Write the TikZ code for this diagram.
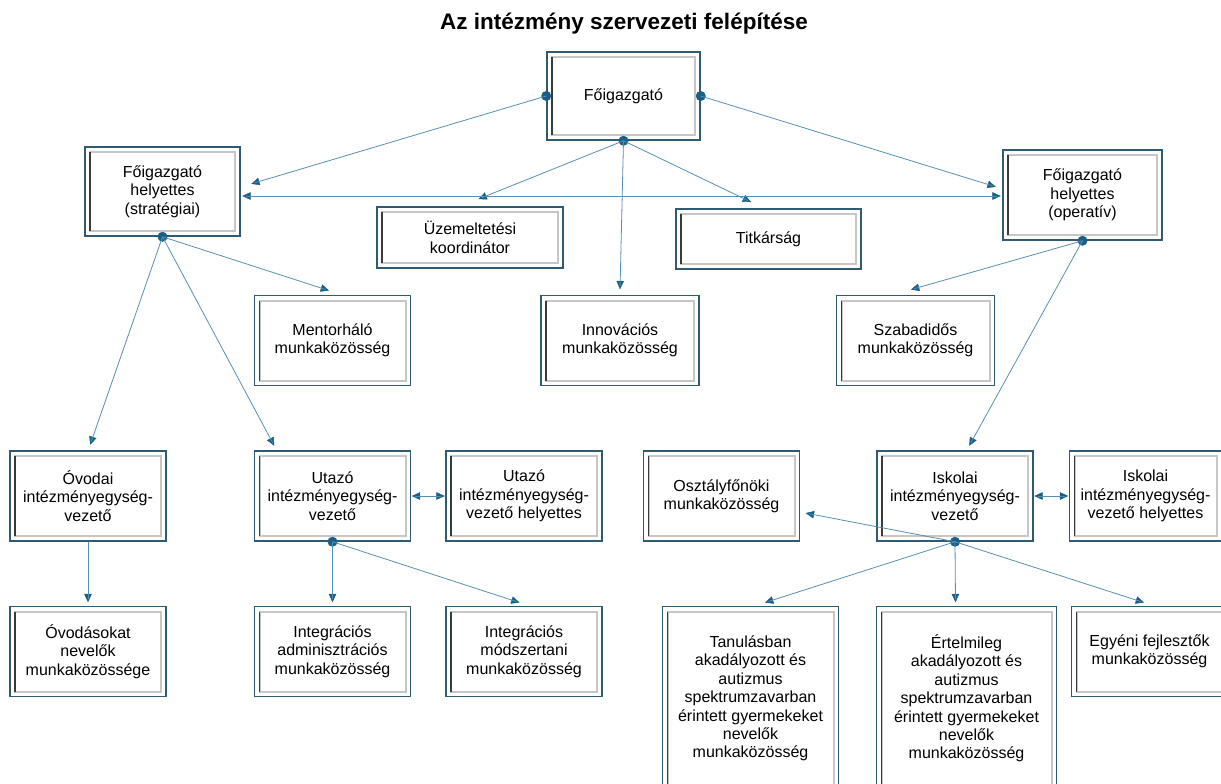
\documentclass[tikz,border=0pt]{standalone}
\usepackage{fontspec}
\setmainfont{Liberation Sans}
\usetikzlibrary{
  positioning, calc, arrows.meta, decorations.markings}
\definecolor{edgeBlue}{HTML}{2F5A72}
\definecolor{lineBlue}{HTML}{5590B2}
\definecolor{headBlue}{HTML}{1B5F86}
\definecolor{frameGray}{HTML}{C6C6C6}
\definecolor{frameDark}{HTML}{3A3A3A}
\tikzset{
    OrgBox/.style = {
        draw=edgeBlue, line width=1.5pt, fill=white, align=center,
        minimum width=156pt, minimum height=90pt, inner sep=2pt,
        font=\fontsize{16pt}{18.4pt}\selectfont,
        path picture={
            \draw [frameGray, line width=2pt]
                ([shift={(5pt,-5pt)}]path picture bounding box.north west) rectangle
                ([shift={(-5pt,5pt)}]path picture bounding box.south east);
            \draw [frameDark, line width=1.6pt]
                ([shift={(5pt,-5pt)}]path picture bounding box.north west) --
                ([shift={(5pt,5pt)}]path picture bounding box.south west);
        }
    },
    Link/.style = {
        draw=lineBlue, line width=0.8pt,
        decoration={
            markings,
            mark=at position 1 with {
                \arrow[headBlue]{Triangle[length=9pt, width=8pt]}
                }
            },
        shorten >= 4pt,
        preaction = {decorate}
    },
    LinkBoth/.style = {
        draw=lineBlue, line width=0.8pt,
        decoration={
            markings,
            mark=at position 0 with {
                \arrowreversed[headBlue]{Triangle[length=9pt, width=8pt]}
                },
            mark=at position 1 with {
                \arrow[headBlue]{Triangle[length=9pt, width=8pt]}
                }
            },
        shorten >= 4pt, shorten <= 4pt,
        preaction = {decorate}
    },
    Dot/.style = {circle, fill=headBlue, inner sep=0pt, minimum size=10pt}
}

\begin{document}
\begin{tikzpicture}[x=1pt, y=-1pt]
    \useasboundingbox (0,0) rectangle (1221,784);
    \clip (0,0) rectangle (1221,784);
    \node [font=\bfseries\fontsize{22.5pt}{27pt}\selectfont] (Title) at (624,24) {Az intézmény szervezeti felépítése};
    \node [OrgBox, minimum width=153pt, minimum height=88pt] (Fo) at (623.5,96) {Főigazgató};
    \node [OrgBox, minimum width=155pt, minimum height=89pt] (FoS) at (162.5,191.5) {Főigazgató\\helyettes\\(stratégiai)};
    \node [OrgBox, minimum width=159pt] (FoO) at (1082.5,195) {Főigazgató\\helyettes\\(operatív)};
    \node [OrgBox, minimum width=186pt, minimum height=61pt] (Uzem) at (470,237.5) {Üzemeltetési\\koordinátor};
    \node [OrgBox, minimum width=185pt, minimum height=60pt] (Titk) at (768.5,239) {Titkárság};
    \node [OrgBox] (Ovodai) at (88,496) {Óvodai\\intézményegység-\\vezető};
    \node [OrgBox, right=87pt of Ovodai] (Utazo) {Utazó\\intézményegység-\\vezető};
    \node [OrgBox, right=34pt of Utazo] (UtazoH) {Utazó\\intézményegység-\\vezető helyettes};
    \node [OrgBox, right=40pt of UtazoH] (Osztaly) {Osztályfőnöki\\munkaközösség};
    \node [OrgBox, right=76pt of Osztaly] (Iskolai) {Iskolai\\intézményegység-\\vezető};
    \node [OrgBox, minimum width=152pt, right=35pt of Iskolai] (IskolaiH) {Iskolai\\intézményegység-\\vezető helyettes};
    \node [OrgBox, above=64pt of Utazo] (Mentor) {Mentorháló\\munkaközösség};
    \node [OrgBox, minimum width=158pt, right=129pt of Mentor] (Innov) {Innovációs\\munkaközösség};
    \node [OrgBox, minimum width=158pt, right=136pt of Innov] (Szab) {Szabadidős\\munkaközösség};
    \node [OrgBox, below=64pt of Ovodai] (Ovodasok) {Óvodásokat\\nevelők\\munkaközössége};
    \node [OrgBox, below=64pt of Utazo] (IntAdm) {Integrációs\\adminisztrációs\\munkaközösség};
    \node [OrgBox, below=64pt of UtazoH] (IntMod) {Integrációs\\módszertani\\munkaközösség};
    \node [OrgBox, minimum width=176pt, minimum height=184pt, below=64pt of Osztaly, xshift=29pt] (Tanul)
        {Tanulásban\\akadályozott és\\autizmus\\spektrumzavarban\\érintett gyermekeket\\nevelők\\munkaközösség};
    \node [OrgBox, minimum width=180pt, minimum height=184pt, below=64pt of Iskolai, xshift=11.5pt] (Ert)
        {Értelmileg\\akadályozott és\\autizmus\\spektrumzavarban\\érintett gyermekeket\\nevelők\\munkaközösség};
    \node [OrgBox, below=64pt of IskolaiH, xshift=4pt] (Egyeni) {Egyéni fejlesztők\\munkaközösség};
    \node [Dot] (FoL) at (Fo.west) {};
    \node [Dot] (FoR) at (Fo.east) {};
    \node [Dot] (FoB) at (Fo.south) {};
    \node [Dot] (FoSB) at (FoS.south) {};
    \node [Dot] (FoOB) at (FoO.south) {};
    \node [Dot] (UtazoB) at (Utazo.south) {};
    \node [Dot] (IskB) at (Iskolai.south) {};
    \draw [Link] (FoL.center) to ($(FoS.east)+(10,-7.5)$);
    \draw [Link] (FoR.center) to ($(FoO.west)+(-6,-8)$);
    \draw [Link] (FoB.center) to ($(Uzem.north)+(8,-7)$);
    \draw [Link] (FoB.center) to ($(Titk.north)+(-17,-6)$);
    \draw [Link] (FoB.center) to ($(Innov.north)+(0,-5)$);
    \draw [LinkBoth] ($(FoS.east)+(1,4.5)$) to ($(FoO.west)+(-1,1)$);
    \draw [Link] (FoSB.center) to ($(Mentor.north)+(-3,-4)$);
    \draw [Link] (FoSB.center) to ($(Ovodai.north)+(2,-5)$);
    \draw [Link] (FoSB.center) to ($(Utazo.north)+(-58,-4)$);
    \draw [Link] (FoOB.center) to ($(Szab.north)+(-5,-5)$);
    \draw [Link] (FoOB.center) to ($(Iskolai.north)+(14,-4)$);
    \draw [LinkBoth] (Utazo.east) to (UtazoH.west);
    \draw [Link] (Ovodai.south) to ($(Ovodasok.north)+(0,-3)$);
    \draw [Link] (UtazoB.center) to ($(IntAdm.north)+(0,-3)$);
    \draw [Link] (UtazoB.center) to ($(IntMod.north)+(-4,-3)$);
    \draw [LinkBoth] (Iskolai.east) to (IskolaiH.west);
    \draw [Link] (IskB.center) to ($(Osztaly.east)+(5,17)$);
    \draw [Link] (IskB.center) to ($(Tanul.north)+(14,-3)$);
    \draw [Link] (IskB.center) to ($(Ert.north)+(-11,-3)$);
    \draw [Link] (IskB.center) to ($(Egyeni.north)+(-5,-3)$);
\end{tikzpicture}
\end{document}
